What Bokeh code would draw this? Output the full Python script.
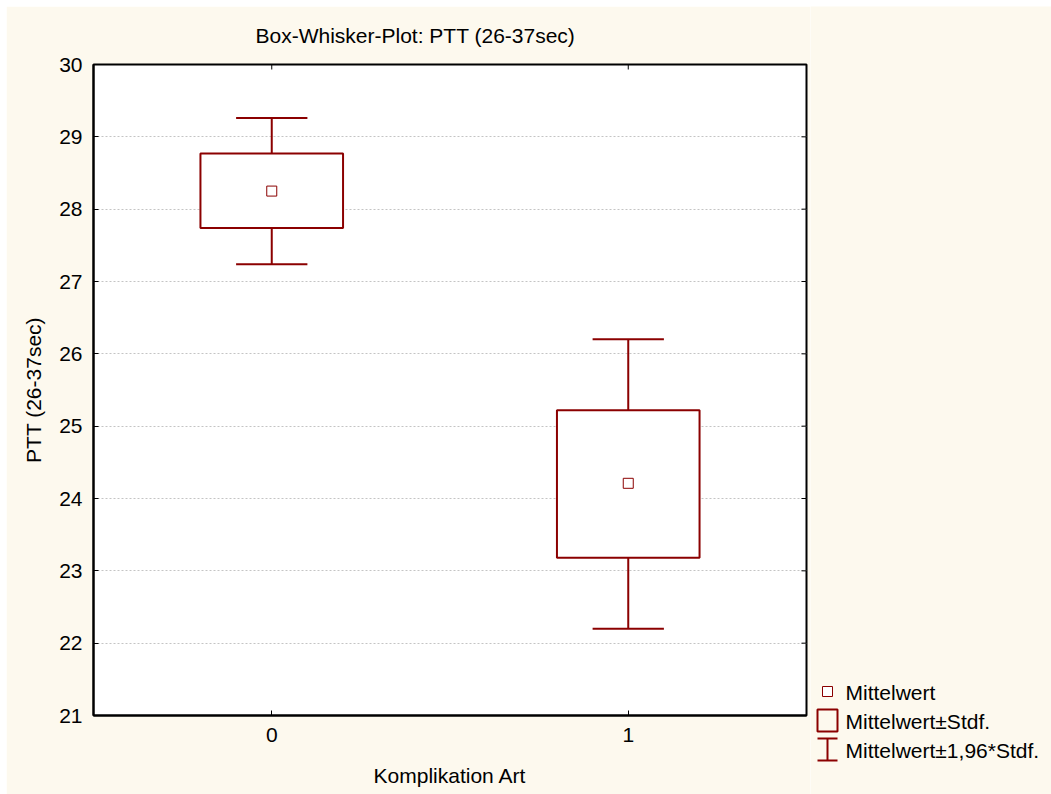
import math
from bokeh.plotting import figure
from bokeh.layouts import row
from bokeh.models import ColumnDataSource, FixedTicker, Range1d
from bokeh.core.properties import value
from bokeh.embed import file_html
from bokeh.resources import INLINE

# ---- data ----
categories = [0, 1]
mean_vals = [28.25, 24.21]
box_low = [27.74, 23.18]      # Mittelwert - Stdf.
box_high = [28.77, 25.22]     # Mittelwert + Stdf.
whisk_low = [27.24, 22.20]    # Mittelwert - 1.96*Stdf.
whisk_high = [29.26, 26.20]   # Mittelwert + 1.96*Stdf.
y_ticks = [21, 22, 23, 24, 25, 26, 27, 28, 29, 30]
x_ticks = [0, 1]

title_text = "Box-Whisker-Plot: PTT (26-37sec)"
x_label = "Komplikation Art"
y_label = "PTT (26-37sec)"
legend_labels = ["Mittelwert", "Mittelwert\u00b1Stdf.", "Mittelwert\u00b11,96*Stdf."]

# ---- styles ----
CREAM = "#FDF9EE"
RED = "#8B0000"
FONT = "Liberation Sans"
FS = "21px"
BOX_W = 0.40
CAP_W = 0.20
X0, X1 = -0.5, 1.5
Y0, Y1 = 21, 30

src = ColumnDataSource(dict(
    x=categories, mean=mean_vals, blo=box_low, bhi=box_high,
    wlo=whisk_low, whi=whisk_high,
    left=[c - BOX_W / 2 for c in categories],
    right=[c + BOX_W / 2 for c in categories],
    cl=[c - CAP_W / 2 for c in categories],
    cr=[c + CAP_W / 2 for c in categories],
))

H = 788
p = figure(width=804, height=H, x_range=Range1d(X0, X1), y_range=Range1d(Y0, Y1),
           output_backend="svg", toolbar_location=None,
           min_border_left=87, min_border_right=4, min_border_top=58,
           min_border_bottom=79)
p.frame_align = False
p.border_fill_color = CREAM
p.background_fill_color = "white"
p.outline_line_color = "black"
p.outline_line_width = 2

# title
p.title.text = title_text
p.title.text_font = FONT
p.title.text_font_size = FS
p.title.text_font_style = "normal"
p.title.text_color = "black"
p.title.align = "left"
p.title.vertical_align = "middle"
p.title.offset = 162
p.title.standoff = 33

# grid
p.xgrid.grid_line_color = None
p.ygrid.grid_line_color = "#C4C4C4"
p.ygrid.grid_line_dash = "2 2"
p.ygrid.grid_line_width = 1
p.ygrid.ticker = FixedTicker(ticks=y_ticks)

for ax in (p.xaxis[0], p.yaxis[0]):
    ax.axis_line_color = "black"
    ax.axis_line_width = 2
    ax.major_tick_in = 5
    ax.major_tick_out = 0
    ax.major_tick_line_width = 1
    ax.minor_tick_line_color = None
    ax.major_label_text_font = FONT
    ax.major_label_text_font_size = FS
    ax.major_label_text_color = "black"
    ax.axis_label_text_font = FONT
    ax.axis_label_text_font_size = FS
    ax.axis_label_text_font_style = "normal"
    ax.axis_label_text_color = "black"

p.xaxis[0].ticker = FixedTicker(ticks=x_ticks)
p.yaxis[0].ticker = FixedTicker(ticks=y_ticks)
p.xaxis[0].axis_label = x_label
p.yaxis[0].axis_label = y_label
p.xaxis[0].major_label_standoff = 12
p.xaxis[0].axis_label_standoff = 19
p.yaxis[0].major_label_standoff = 11
p.yaxis[0].axis_label_standoff = 11

# inward ticks on the top and right frame edges
p.scatter(x=x_ticks, y=[Y1] * len(x_ticks), marker="dash", angle=math.pi / 2,
          size=10, line_color="black", line_width=1)
p.scatter(x=[X1] * len(y_ticks), y=y_ticks, marker="dash", size=10,
          line_color="black", line_width=1)

# whiskers
p.segment(x0="x", y0="bhi", x1="x", y1="whi", source=src, line_color=RED, line_width=2)
p.segment(x0="x", y0="wlo", x1="x", y1="blo", source=src, line_color=RED, line_width=2)
p.segment(x0="cl", y0="whi", x1="cr", y1="whi", source=src, line_color=RED, line_width=2)
p.segment(x0="cl", y0="wlo", x1="cr", y1="wlo", source=src, line_color=RED, line_width=2)
# boxes
p.quad(left="left", right="right", bottom="blo", top="bhi", source=src,
       fill_color="white", line_color=RED, line_width=2)
# means
p.scatter(x="x", y="mean", source=src, marker="square", size=10,
          fill_color="white", line_color=RED, line_width=1)

# ---- legend panel (pixel coordinates inside the panel, y downwards) ----
LW = 241
lg = figure(width=LW, height=H, x_range=Range1d(0, LW), y_range=Range1d(H, 0),
            output_backend="svg", toolbar_location=None,
            min_border=0, min_border_left=0, min_border_right=0,
            min_border_top=0, min_border_bottom=0)
lg.frame_align = False
lg.axis.visible = False
lg.grid.visible = False
lg.outline_line_color = None
lg.border_fill_color = CREAM
lg.background_fill_color = CREAM

rows = [685, 714, 743]
gx = 17
lg.scatter(x=[gx], y=[rows[0]], marker="square", size=10, fill_color="white",
           line_color=RED, line_width=1)
lg.quad(left=[gx - 10], right=[gx + 10], top=[rows[1] - 11], bottom=[rows[1] + 11],
        fill_color=None, line_color=RED, line_width=2)
lg.segment(x0=[gx, gx - 10, gx - 10], y0=[rows[2] - 11, rows[2] - 11, rows[2] + 11],
           x1=[gx, gx + 10, gx + 10], y1=[rows[2] + 11, rows[2] - 11, rows[2] + 11],
           line_color=RED, line_width=2)
lg.text(x=[35] * 3, y=[r + 1 for r in rows], text=legend_labels, text_font=value(FONT),
        text_font_size=FS, text_baseline="middle", text_align="left", text_color="black")

layout = row(p, lg, spacing=0)
layout.margin = (6, 0, 0, 6)

open("out.html", "w").write(file_html(layout, INLINE))
